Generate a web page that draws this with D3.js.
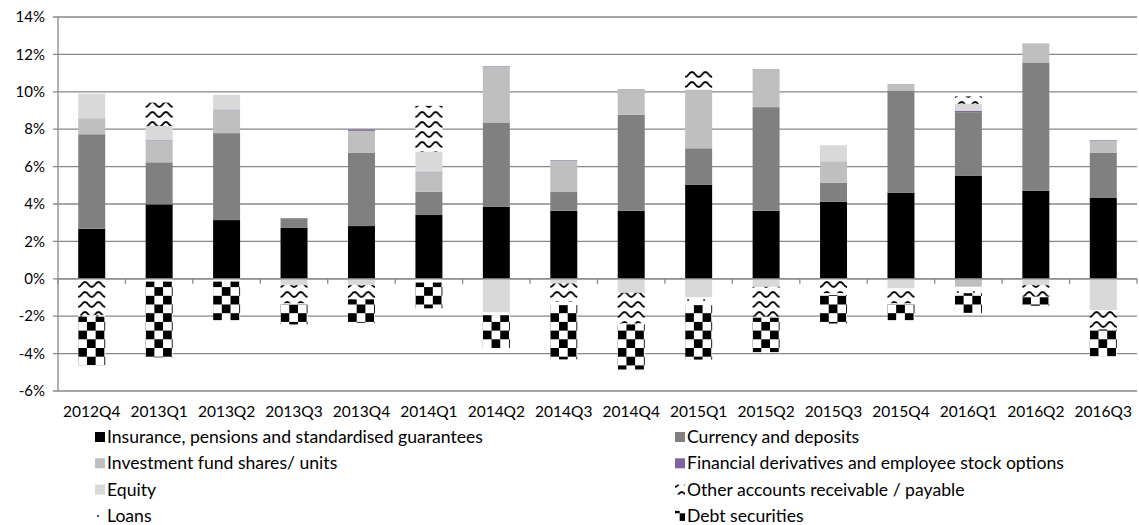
<!DOCTYPE html>
<html><head><meta charset="utf-8">
<script src="https://cdn.jsdelivr.net/npm/d3@7"></script>
<style>
html,body{margin:0;padding:0;background:#fff;}
svg{display:block;font-family:Lato, "Open Sans", sans-serif;}
</style></head>
<body>
<svg id="chart" width="1139" height="525"></svg>
<script>
const categories = ["2012Q4","2013Q1","2013Q2","2013Q3","2013Q4","2014Q1","2014Q2","2014Q3","2014Q4","2015Q1","2015Q2","2015Q3","2015Q4","2016Q1","2016Q2","2016Q3"];
const seriesNames = ["Insurance, pensions and standardised guarantees","Currency and deposits","Investment fund shares/ units","Financial derivatives and employee stock options","Equity","Other accounts receivable / payable","Loans","Debt securities"];
const insurance = [2.68,3.98,3.14,2.72,2.82,3.41,3.86,3.64,3.64,5.02,3.64,4.12,4.61,5.50,4.70,4.32];
const currency  = [5.05,2.25,4.65,0.51,3.91,1.25,4.50,1.00,5.13,1.96,5.54,1.02,5.46,3.41,6.87,2.43];
const investment= [0.82,1.15,1.23,0,1.18,1.04,3.00,1.68,1.37,3.11,2.03,1.11,0.34,-0.43,1.00,0.64];
const derivatives=[0.02,0.03,0.03,0.02,0.07,0.03,0.02,0.03,0.01,0.02,0.01,0.02,0.01,0.07,0.01,0.03];
const equity    = [1.33,0.76,0.79,-0.34,-0.34,1.07,-1.80,-0.25,-0.75,-1.00,-0.43,0.87,-0.52,0.38,-0.34,-1.68];
const otherAcc  = [-1.95,1.25,0,-0.98,-0.71,2.45,0,-0.98,-1.64,1.16,-1.60,-0.78,-0.80,0.39,-0.62,-0.98];
const loans     = [-0.08,-0.15,-0.15,-0.05,-0.05,-0.20,-0.15,-0.18,-0.05,-0.41,-0.05,-0.09,-0.05,-0.34,-0.03,-0.05];
const debt      = [-2.59,-4.05,-2.06,-1.07,-1.25,-1.38,-1.75,-2.90,-2.41,-2.91,-1.84,-1.52,-0.84,-1.05,-0.45,-1.43];
const yTicks = [-6,-4,-2,0,2,4,6,8,10,12,14];

const allSeries = [insurance,currency,investment,derivatives,equity,otherAcc,loans,debt];
const keys = seriesNames;
const table = categories.map((c,i)=>{const o={cat:c}; keys.forEach((k,j)=>o[k]=allSeries[j][i]); return o;});

const svg = d3.select("#chart");
const defs = svg.append("defs");

const x = d3.scaleBand().domain(categories).range([58,1137]).paddingInner(0.6).paddingOuter(0.3);
const y = d3.scaleLinear().domain([-6,14]).range([391,17]);
const gridColor = "#888888";

const legendLeft = [95, 675];
const legendTop = 437, legendRow = 26.3;

function makeWave(id, ox){
  const p = defs.append("pattern").attr("id",id).attr("patternUnits","userSpaceOnUse")
    .attr("x",ox).attr("y",0).attr("width",13.5).attr("height",10);
  p.append("rect").attr("width",13.5).attr("height",10).attr("fill","#fff");
  p.append("path").attr("d","M-3.4,4.5 Q-1.7,7 0,7 Q1.7,7 3.4,4.5 Q5.1,2 6.75,2 Q8.4,2 10.1,4.5 Q11.8,7 13.5,7 Q15.2,7 16.9,4.5")
    .attr("fill","none").attr("stroke","#000").attr("stroke-width",1.8);
}
function makeChecker(id, ox){
  const p = defs.append("pattern").attr("id",id).attr("patternUnits","userSpaceOnUse")
    .attr("x",ox).attr("y",0).attr("width",17.4).attr("height",17.4);
  p.append("rect").attr("width",17.4).attr("height",17.4).attr("fill","#fff");
  p.append("rect").attr("width",8.7).attr("height",8.7).attr("fill","#000");
  p.append("rect").attr("x",8.7).attr("y",8.7).attr("width",8.7).attr("height",8.7).attr("fill","#000");
}
function makeDots(id, ox){
  const p = defs.append("pattern").attr("id",id).attr("patternUnits","userSpaceOnUse")
    .attr("x",ox).attr("y",0).attr("width",16).attr("height",8);
  p.append("rect").attr("width",16).attr("height",8).attr("fill","#fff");
  p.append("rect").attr("x",2).attr("y",3).attr("width",2).attr("height",2).attr("fill","#555");
}
categories.forEach((c,i)=>{
  makeWave("pWave"+i, x(c));
  makeChecker("pChecker"+i, x(c));
  makeDots("pDots"+i, x(c));
});
makeWave("pWaveL", legendLeft[1]);
makeChecker("pCheckerL", legendLeft[1]-4);
makeDots("pDotsL", legendLeft[0]);

const solid = ["#000000","#808080","#bfbfbf","#8064a2","#d9d9d9"];
function fillFor(si, ci){
  if (si < 5) return solid[si];
  const base = si===5 ? "pWave" : si===6 ? "pDots" : "pChecker";
  return "url(#"+base+ci+")";
}
function legendFill(si){
  if (si < 5) return solid[si];
  return si===5 ? "url(#pWaveL)" : si===6 ? "url(#pDotsL)" : "url(#pCheckerL)";
}

// gridlines
svg.append("g").selectAll("line").data(yTicks).join("line")
  .attr("x1",53).attr("x2",1137).attr("y1",d=>y(d)).attr("y2",d=>y(d))
  .attr("stroke",gridColor).attr("stroke-width",1.3);
svg.append("line").attr("x1",58).attr("x2",58).attr("y1",y(14)).attr("y2",y(-6)).attr("stroke",gridColor).attr("stroke-width",1.3);
svg.append("g").selectAll("text").data(yTicks).join("text")
  .attr("x",45).attr("y",d=>y(d)).attr("dy","0.35em").attr("text-anchor","end")
  .attr("font-size",15).attr("fill","#000").text(d=>d+"%");

// bars
const stack = d3.stack().keys(keys).offset(d3.stackOffsetDiverging);
const layers = stack(table);
svg.append("g").selectAll("g").data(layers).join("g")
  .selectAll("rect").data((d,si)=>d.map((v,ci)=>({v,si,ci}))).join("rect")
  .attr("fill",d=>fillFor(d.si,d.ci))
  .attr("x",d=>x(d.v.data.cat)).attr("width",x.bandwidth())
  .attr("y",d=>y(Math.max(d.v[0],d.v[1]))).attr("height",d=>Math.abs(y(d.v[0])-y(d.v[1])));

// category axis at zero
const zeroY = y(0);
svg.append("line").attr("x1",58).attr("x2",1137).attr("y1",zeroY).attr("y2",zeroY).attr("stroke",gridColor).attr("stroke-width",1.3);
const step = x.step();
svg.append("g").selectAll("line").data(d3.range(categories.length+1)).join("line")
  .attr("x1",d=>58+d*step).attr("x2",d=>58+d*step).attr("y1",zeroY).attr("y2",zeroY+5)
  .attr("stroke",gridColor).attr("stroke-width",1.3);
svg.append("g").selectAll("text").data(categories).join("text")
  .attr("x",d=>x(d)+x.bandwidth()/2).attr("y",412).attr("dy","0.35em").attr("text-anchor","middle")
  .attr("font-size",15.5).attr("fill","#000").text(d=>d);

// legend
const legend = svg.append("g");
keys.forEach((k,i)=>{
  const col = i%2, row = Math.floor(i/2);
  const lx = legendLeft[col];
  const ly = legendTop + row*legendRow;
  legend.append("rect").attr("x",lx).attr("y",ly-5).attr("width",10).attr("height",10).attr("fill",legendFill(i));
  legend.append("text").attr("x",lx+12).attr("y",ly).attr("dy","0.35em").attr("font-size",17.6).attr("fill","#000").text(k);
});
</script>
</body></html>
